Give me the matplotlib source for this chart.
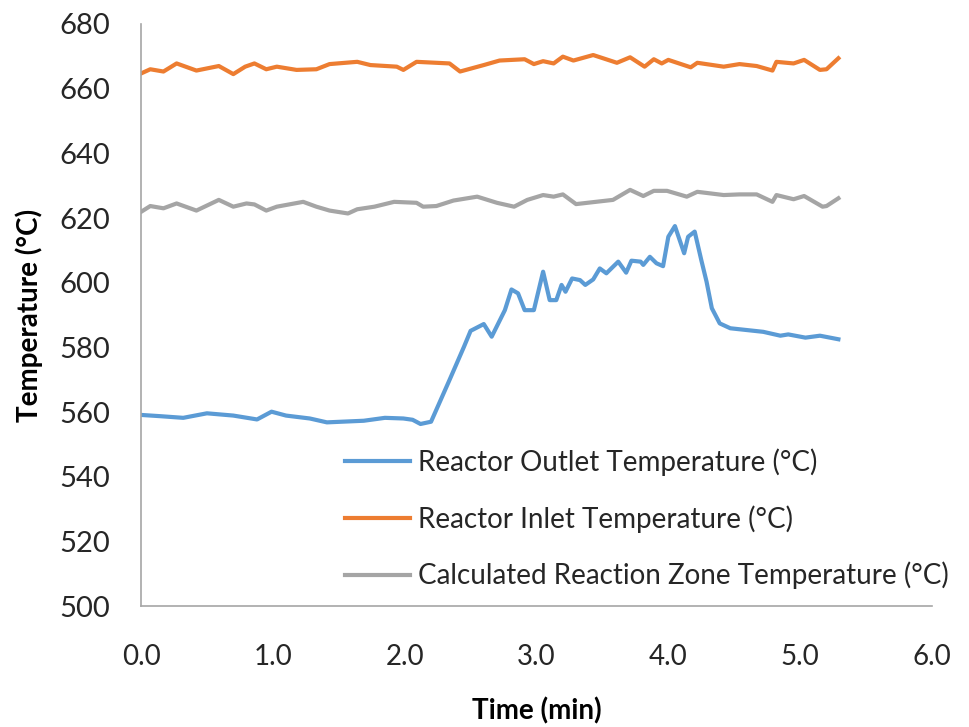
import matplotlib.pyplot as plt

plt.rcParams['font.family'] = ['Lato', 'DejaVu Sans']

# Reactor outlet temperature (blue)
t_outlet = [0.0, 0.15, 0.32, 0.50, 0.70, 0.88, 0.99, 1.10, 1.28, 1.41, 1.69, 1.85, 1.99, 2.06,
            2.12, 2.20, 2.34, 2.45,
            2.50, 2.60, 2.66, 2.76, 2.81, 2.86, 2.91, 2.98, 3.05, 3.10, 3.15, 3.19,
            3.22, 3.27, 3.33, 3.37, 3.43, 3.48, 3.53, 3.62, 3.68, 3.72, 3.79, 3.81,
            3.86, 3.91, 3.96, 4.00, 4.05, 4.12, 4.15, 4.20, 4.25, 4.29, 4.33, 4.39,
            4.47, 4.72, 4.85, 4.91, 5.04, 5.15, 5.29]
outlet = [559.1, 558.7, 558.2, 559.6, 558.9, 557.7, 560.1, 558.9, 558.0, 556.8, 557.3, 558.2,
          558.0, 557.6, 556.3, 557.0, 569.9, 580.2,
          585.1, 587.2, 583.3, 591.5, 597.9, 596.7, 591.5, 591.5, 603.4, 594.6, 594.6, 599.3,
          597.2, 601.3, 600.8, 599.3, 601.0, 604.4, 602.9, 606.5, 603.1, 606.8, 606.5, 605.5,
          608.0, 606.0, 605.1, 614.2, 617.5, 609.1, 614.2, 615.8, 607.0, 600.3, 592.1, 587.4,
          585.9, 584.8, 583.6, 584.0, 583.0, 583.6, 582.5]

# Reactor inlet temperature (orange)
t_inlet = [0.0, 0.07, 0.17, 0.27, 0.42, 0.59, 0.70, 0.79, 0.86, 0.95, 1.03, 1.18,
           1.33, 1.43, 1.64, 1.74, 1.94, 1.99, 2.09, 2.34, 2.42, 2.60, 2.72, 2.91,
           2.98, 3.05, 3.13, 3.20, 3.28, 3.43, 3.61, 3.71, 3.82, 3.89, 3.95, 4.00,
           4.17, 4.22, 4.42, 4.54, 4.67, 4.79, 4.82, 4.95, 5.03, 5.15, 5.20, 5.29]
inlet = [664.7, 666.0, 665.3, 667.8, 665.6, 667.0, 664.5, 666.8, 667.8, 666.0, 666.8, 665.8,
         666.0, 667.6, 668.3, 667.3, 666.8, 665.8, 668.3, 667.8, 665.3, 667.3, 668.7, 669.1,
         667.6, 668.5, 667.8, 669.9, 668.7, 670.4, 668.0, 669.7, 666.8, 669.1, 667.8, 668.9,
         666.6, 668.0, 666.8, 667.6, 667.0, 665.6, 668.3, 667.8, 668.9, 665.8, 666.0, 669.4]

# Calculated reaction zone temperature (gray)
t_zone = [0.0, 0.07, 0.17, 0.27, 0.42, 0.59, 0.70, 0.80, 0.86, 0.95, 1.03, 1.23,
          1.33, 1.43, 1.57, 1.64, 1.77, 1.92, 2.09, 2.14, 2.24, 2.37, 2.55, 2.70,
          2.83, 2.93, 3.05, 3.13, 3.20, 3.30, 3.45, 3.58, 3.71, 3.81, 3.89, 3.99,
          4.14, 4.22, 4.42, 4.54, 4.67, 4.79, 4.82, 4.95, 5.03, 5.17, 5.20, 5.29]
zone = [621.9, 623.7, 623.0, 624.5, 622.3, 625.6, 623.5, 624.5, 624.2, 622.3, 623.5, 625.0,
        623.5, 622.3, 621.4, 622.7, 623.5, 625.0, 624.7, 623.5, 623.7, 625.4, 626.6, 624.7,
        623.5, 625.6, 627.1, 626.6, 627.3, 624.3, 625.0, 625.6, 628.7, 626.8, 628.4, 628.4,
        626.6, 628.1, 627.1, 627.3, 627.3, 625.0, 627.1, 625.8, 626.8, 623.5, 623.7, 626.1]

labels = ['Reactor Outlet Temperature (°C)',
          'Reactor Inlet Temperature (°C)',
          'Calculated Reaction Zone Temperature (°C)']
x_ticks = [0, 1, 2, 3, 4, 5, 6]
y_ticks = [500, 520, 540, 560, 580, 600, 620, 640, 660, 680]

fig = plt.figure(figsize=(9.7, 7.27), dpi=100)
ax = fig.add_axes([0.1454, 0.1664, 0.8154, 0.8006])

ax.plot(t_outlet, outlet, color='#5B9BD5', lw=3, label=labels[0])
ax.plot(t_inlet, inlet, color='#ED7D31', lw=3, label=labels[1])
ax.plot(t_zone, zone, color='#A5A5A5', lw=3, label=labels[2])

ax.set_xlim(0, 6)
ax.set_ylim(500, 680)
ax.set_xticks(x_ticks)
ax.set_xticklabels([f'{v:.1f}' for v in x_ticks])
ax.set_yticks(y_ticks)
ax.tick_params(length=0, colors='#262626')
ax.tick_params(axis='y', labelsize=21, pad=22)
ax.tick_params(axis='x', labelsize=20, pad=27)

for s in ['top', 'right']:
    ax.spines[s].set_visible(False)
for s in ['left', 'bottom']:
    ax.spines[s].set_color('#A6A6A6')
    ax.spines[s].set_linewidth(1.2)

ax.set_xlabel('Time (min)', fontsize=20, fontweight='bold', labelpad=20)
ax.set_ylabel('Temperature (°C)', fontsize=20, fontweight='bold', labelpad=12)

leg = ax.legend(loc='upper left', bbox_to_anchor=(0.226, 0.314), frameon=False,
                fontsize=20, handlelength=2.34, handletextpad=0.29, labelspacing=1.05)
for txt in leg.get_texts():
    txt.set_color('#262626')

fig.savefig('out.png', dpi=100)
